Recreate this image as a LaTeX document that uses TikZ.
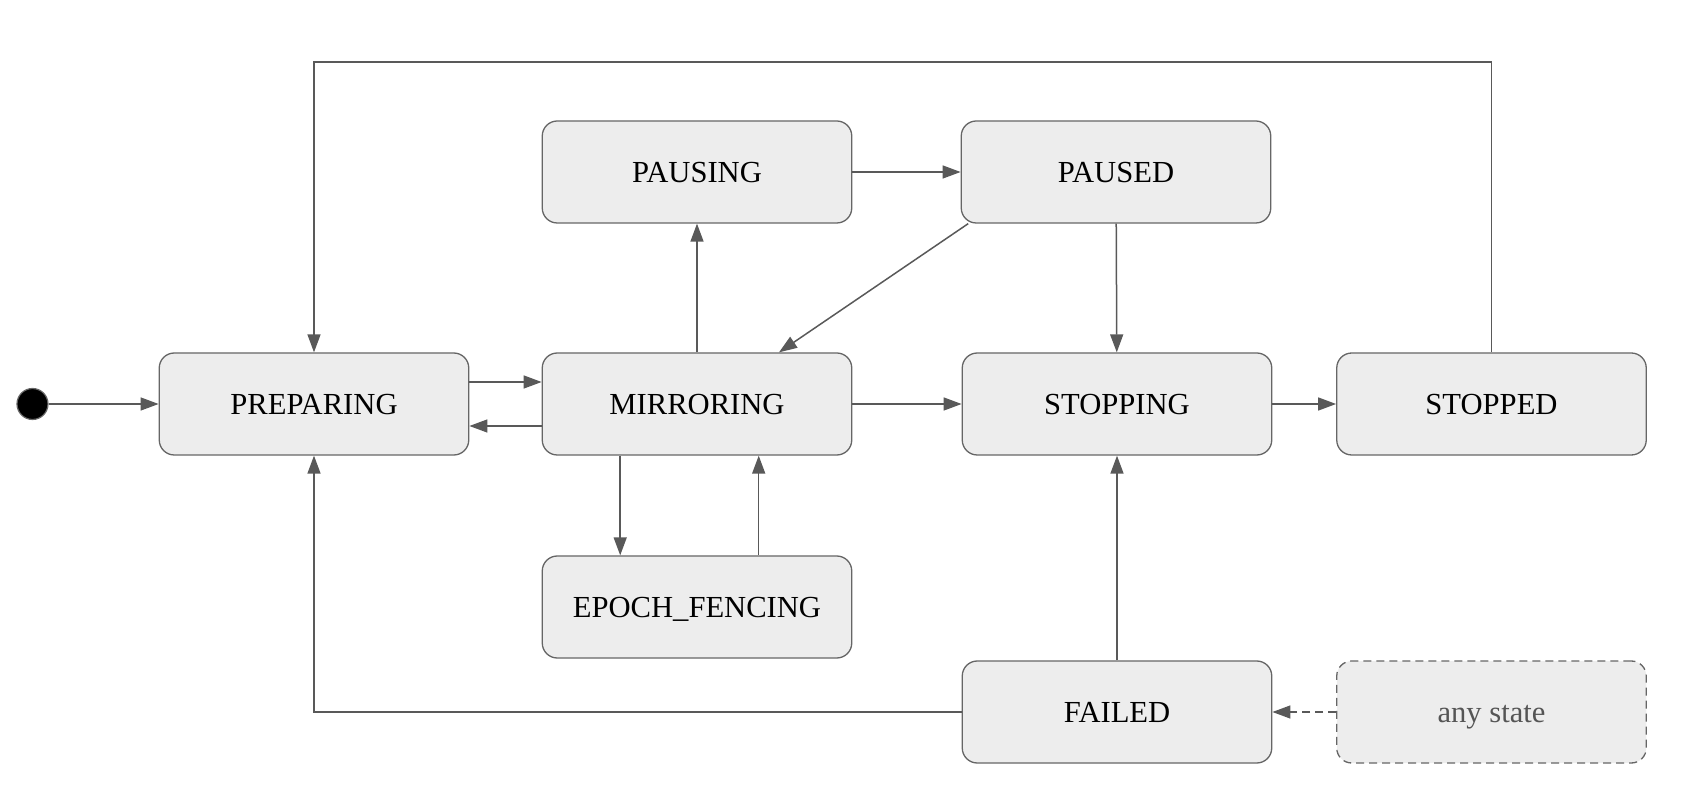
\documentclass[tikz,border=0pt]{standalone}
\usepackage{fontspec}
\setmainfont{Liberation Serif}
\usetikzlibrary{positioning, calc, arrows.meta}

\definecolor{linegray}{HTML}{595959}
\definecolor{boxfill}{HTML}{EDEDED}
\definecolor{boxline}{HTML}{666666}
\definecolor{textgray}{HTML}{555555}

\tikzset{
    statebox/.style={draw=boxline, fill=boxfill, rounded corners=7.5pt, line width=0.65pt,
        minimum width=154.75pt, minimum height=51pt, inner sep=0pt,
        text height=10.8pt, text depth=0pt, font=\fontsize{15.3}{18}\selectfont},
    trans/.style={draw=linegray, line width=0.75pt, -{Triangle[length=9pt,width=6.5pt]}},
}

\begin{document}
\begin{tikzpicture}[x=0.5pt, y=-0.5pt]
        \useasboundingbox (0,0) rectangle (1697,806);
        \node[circle,draw=boxline,fill=black,minimum size=15.5pt,inner sep=0pt,line width=0.6pt] (start) at (32.5,404) {};
        \node[statebox] (preparing) at (314,404) {PREPARING};
        \node[statebox] (mirroring) at (697,404) {MIRRORING};
        \node[statebox] (stopping) at (1117,404) {STOPPING};
        \node[statebox] (stopped) at (1491.5,404) {STOPPED};
        \node[statebox] (pausing) at (697,172) {PAUSING};
        \node[statebox] (paused) at (1116,172) {PAUSED};
        \node[statebox] (fencing) at (697,607) {EPOCH\_FENCING};
        \node[statebox] (failed) at (1117,712) {FAILED};
        \node[statebox,dashed,dash pattern=on 4pt off 2.5pt,text=textgray] (anystate) at (1491.5,712) {any state};
        \coordinate (top) at (0,62);

        \draw[trans] (start) -- (preparing);
        \draw[trans] ([yshift=11pt]preparing.east) -- ([yshift=11pt]mirroring.west);
        \draw[trans] ([yshift=-11pt]mirroring.west) -- ([yshift=-11pt]preparing.east);
        \draw[trans] (mirroring) -- (pausing);
        \draw[trans] (pausing) -- (paused);
        \draw[trans] ([xshift=3.8pt]paused.south west) -- ([xshift=41pt]mirroring.north);
        \draw[trans] (paused) -- (stopping);
        \draw[trans] (mirroring) -- (stopping);
        \draw[trans] (stopping) -- (stopped);
        \draw[trans] (stopped.north) -- (stopped.north |- top) -| (preparing.north);
        \draw[trans] ([xshift=-38.4pt]mirroring.south) -- ([xshift=-38.4pt]fencing.north);
        \draw[trans] ([xshift=30.85pt]fencing.north) -- ([xshift=30.85pt]mirroring.south);
        \draw[trans] (failed) -- (stopping);
        \draw[trans] (failed.west) -| (preparing.south);
        \draw[trans, dashed, dash pattern=on 4pt off 2.5pt] (anystate) -- (failed);
    \end{tikzpicture}
\end{document}
